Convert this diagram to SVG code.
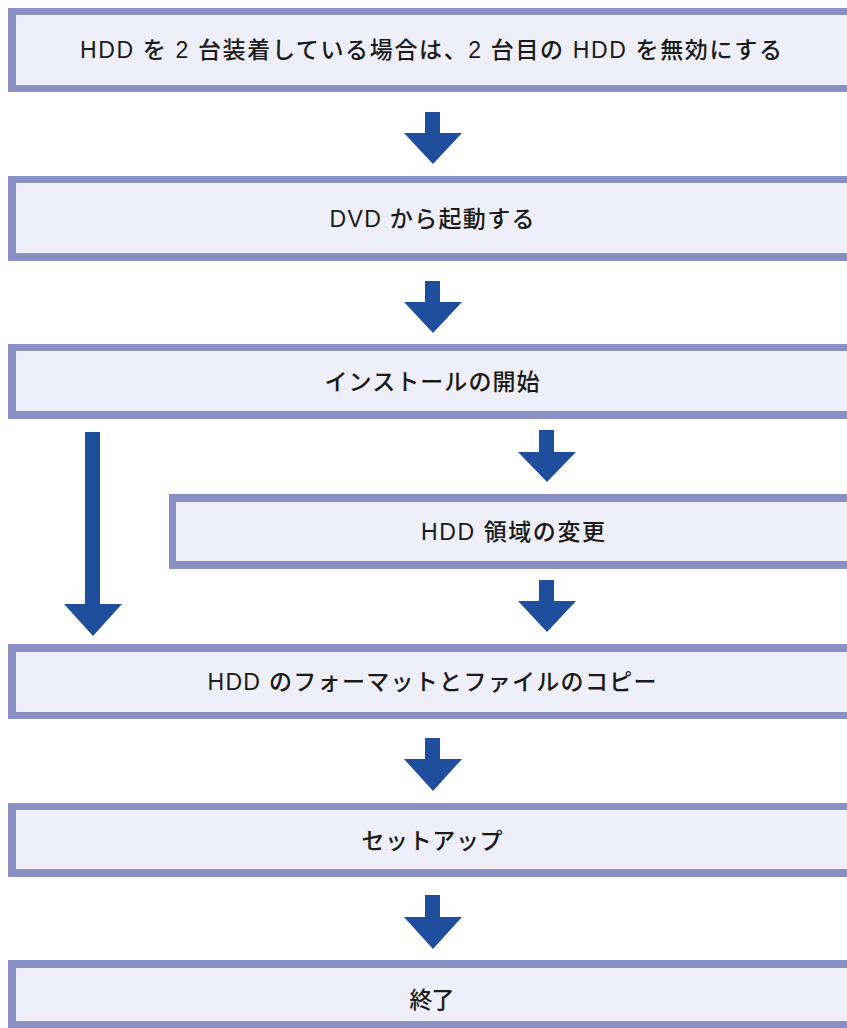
<svg xmlns="http://www.w3.org/2000/svg" width="847" height="1028" viewBox="0 0 847 1028">
<defs>
<style>
.fill{fill:#eeeff8}
.bar{fill:#8a90c4}
.arrow{fill:#1f4e9c}
text{font-family:"Liberation Sans","Noto Sans CJK JP",sans-serif;font-size:23px;font-weight:500;fill:#1a1a1a;text-anchor:middle;dominant-baseline:central}
</style>
</defs>
<rect width="847" height="1028" fill="#ffffff"/>
<g id="n1">
<rect class="fill" x="8" y="8" width="839" height="84"/>
<rect class="bar" x="8" y="8" width="839" height="7"/>
<rect class="bar" x="8" y="85" width="839" height="7"/>
<rect class="bar" x="8" y="8" width="8" height="84"/>
<text x="431" y="50" textLength="702" lengthAdjust="spacing">HDD を 2 台装着している場合は、2 台目の HDD を無効にする</text>
</g>
<g id="n2">
<rect class="fill" x="8" y="176" width="839" height="85"/>
<rect class="bar" x="8" y="176" width="839" height="7"/>
<rect class="bar" x="8" y="253" width="839" height="8"/>
<rect class="bar" x="8" y="176" width="8" height="85"/>
<text x="432" y="219" textLength="205" lengthAdjust="spacing">DVD から起動する</text>
</g>
<g id="n3">
<rect class="fill" x="8" y="344" width="839" height="75"/>
<rect class="bar" x="8" y="344" width="839" height="7"/>
<rect class="bar" x="8" y="411" width="839" height="8"/>
<rect class="bar" x="8" y="344" width="8" height="75"/>
<text x="432" y="382" textLength="215" lengthAdjust="spacing">インストールの開始</text>
</g>
<g id="n4">
<rect class="fill" x="169" y="494" width="678" height="75"/>
<rect class="bar" x="169" y="494" width="678" height="8"/>
<rect class="bar" x="169" y="561" width="678" height="8"/>
<rect class="bar" x="169" y="494" width="7" height="75"/>
<text x="513" y="532" textLength="184" lengthAdjust="spacing">HDD 領域の変更</text>
</g>
<g id="n5">
<rect class="fill" x="8" y="644" width="839" height="75"/>
<rect class="bar" x="8" y="644" width="839" height="8"/>
<rect class="bar" x="8" y="712" width="839" height="7"/>
<rect class="bar" x="8" y="644" width="8" height="75"/>
<text x="432" y="682" textLength="449" lengthAdjust="spacing">HDD のフォーマットとファイルのコピー</text>
</g>
<g id="n6">
<rect class="fill" x="8" y="803" width="839" height="74"/>
<rect class="bar" x="8" y="803" width="839" height="7"/>
<rect class="bar" x="8" y="869" width="839" height="8"/>
<rect class="bar" x="8" y="803" width="8" height="74"/>
<text x="432" y="841" textLength="141" lengthAdjust="spacing">セットアップ</text>
</g>
<g id="n7">
<rect class="fill" x="8" y="960" width="839" height="68"/>
<rect class="bar" x="8" y="960" width="839" height="8"/>
<rect class="bar" x="8" y="1021" width="839" height="7"/>
<rect class="bar" x="8" y="960" width="8" height="68"/>
<text x="432" y="1000" textLength="45" lengthAdjust="spacing">終了</text>
</g>
<g id="connectors">
<polygon class="arrow" points="425,112 440,112 440,133 462,133 433,164 404,133 425,133"/>
<polygon class="arrow" points="425,281 440,281 440,302 462,302 433,333 404,302 425,302"/>
<polygon class="arrow" points="539,430 554,430 554,452 576,452 547,482 518,452 539,452"/>
<polygon class="arrow" points="539,580 554,580 554,601 576,601 547,632 518,601 539,601"/>
<polygon class="arrow" points="85,432 100,432 100,604 122,604 93,636 64,604 85,604"/>
<polygon class="arrow" points="425,738 440,738 440,759 462,759 433,791 404,759 425,759"/>
<polygon class="arrow" points="425,895 440,895 440,917 462,917 433,949 404,917 425,917"/>
</g>
</svg>
